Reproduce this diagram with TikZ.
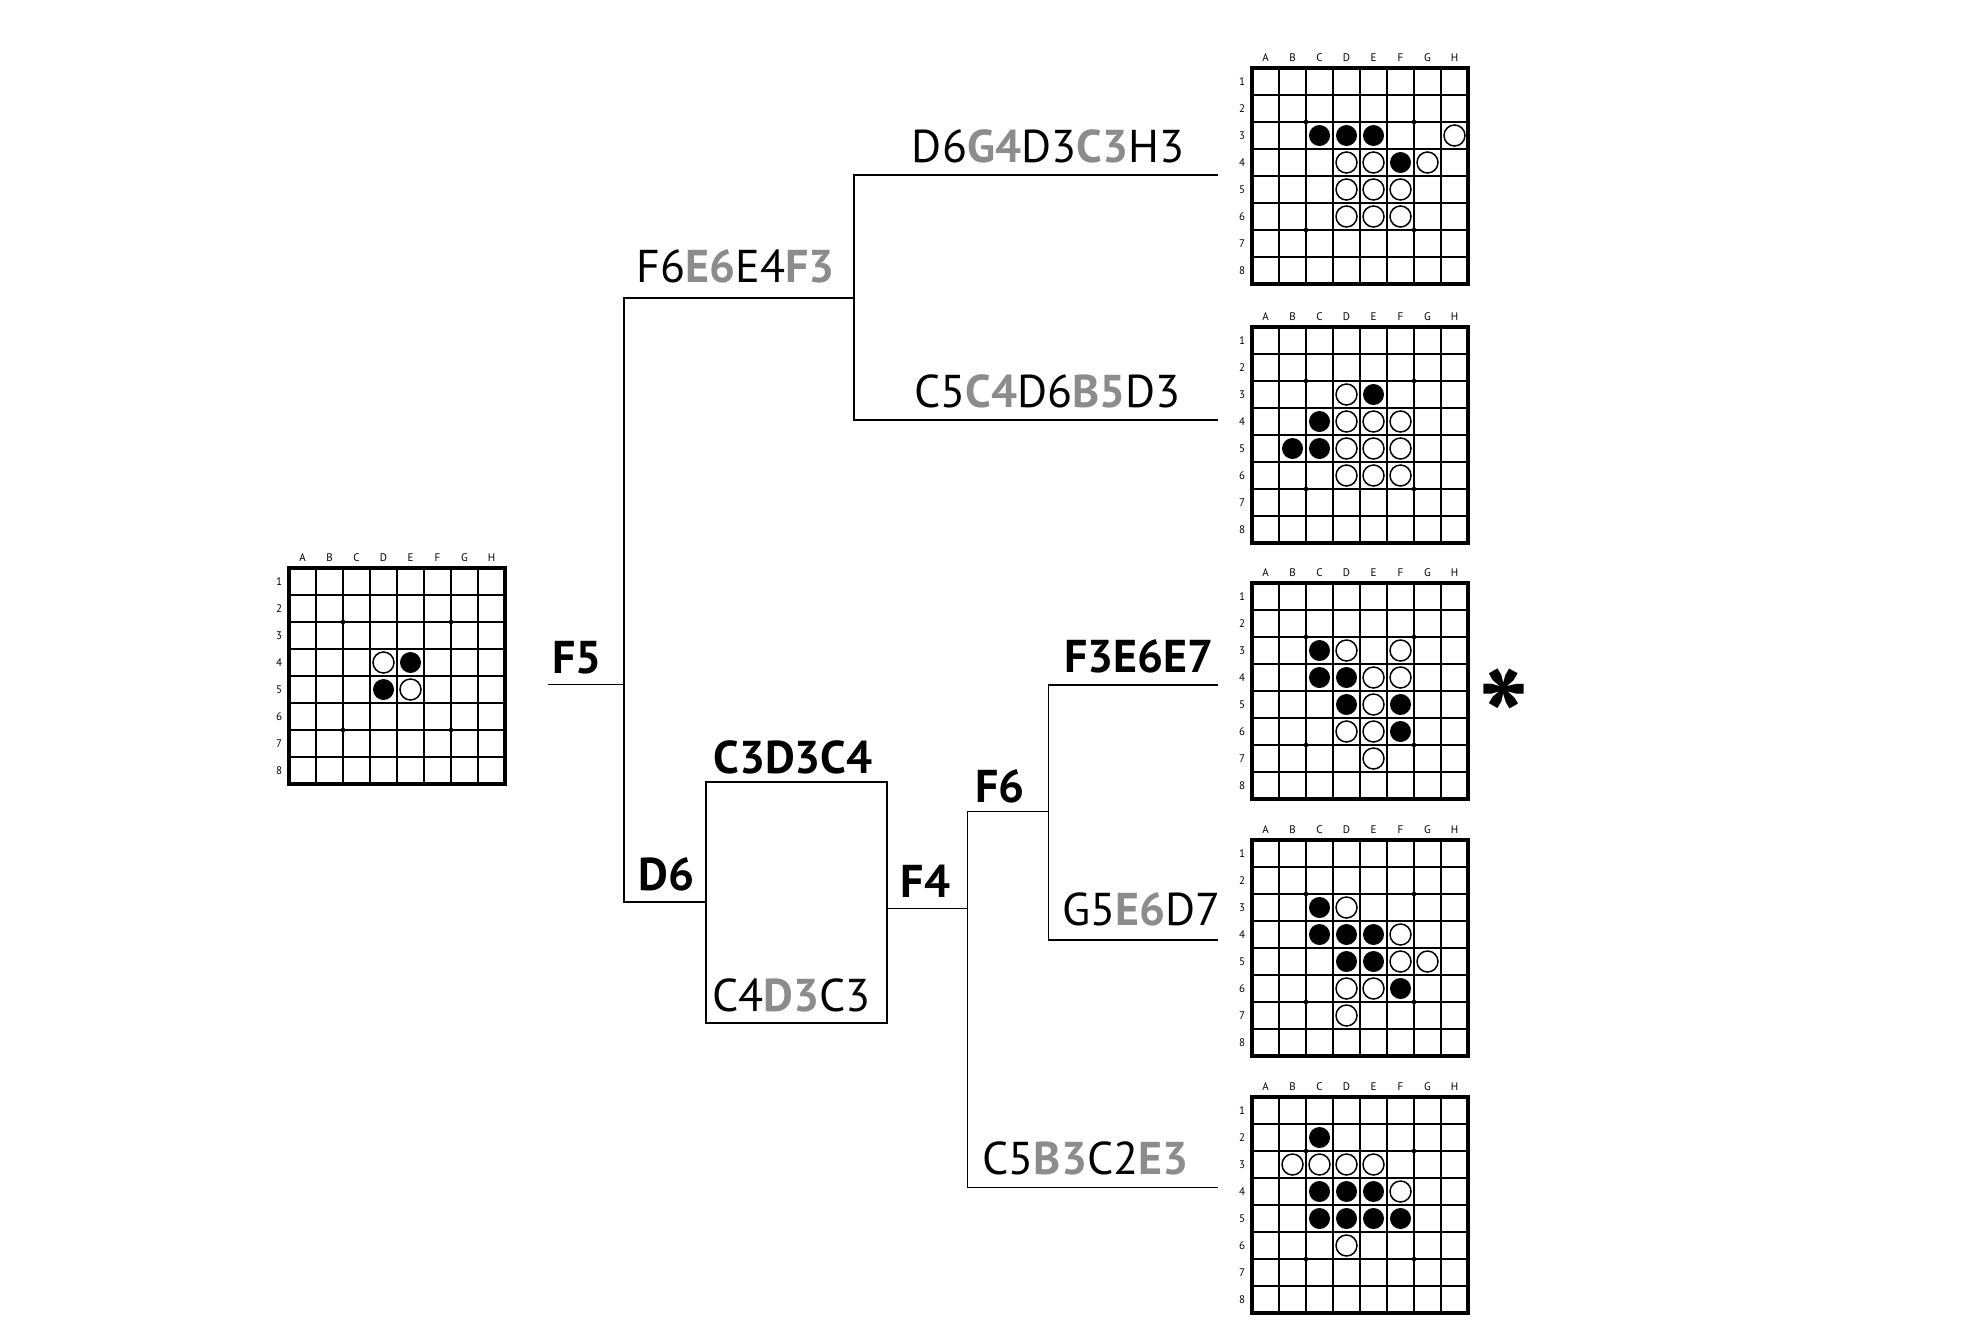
\documentclass[tikz,border=0pt]{standalone}
\usepackage{fontspec}
\setmainfont{PT Sans}
\usepackage{tikz}
\usetikzlibrary{positioning}
\definecolor{dim}{HTML}{8C8C8C}
\newcommand{\gmove}[1]{{\bfseries\color{dim}#1}}
% one 8x8 board: name, top-left corner, black stones, white stones (col/row)
\newcommand{\othelloboard}[4]{%
  \begin{scope}[shift={(#2)}]
    \coordinate (#1) at (0,0);
    \foreach \i in {1,...,7} {
      \draw[gridline] (\i*27,0) -- (\i*27,216);
      \draw[gridline] (0,\i*27) -- (216,\i*27);
    }
    \foreach \px/\py in {2/2,6/2,2/6,6/6}
      \fill (\px*27,\py*27) circle[radius=2.3pt];
    \foreach \c [count=\n] in {A,...,H}
      \node[boardlabel] (#1-c\n) at (\n*27-13.5,-10) {\c};
    \foreach \n in {1,...,8}
      \node[boardlabel] (#1-r\n) at (-10,\n*27-13.5) {\n};
    \foreach \c/\r in {#3}
      \fill (\c*27-13.5,\r*27-13.5) circle[radius=10.5pt];
    \foreach \c/\r in {#4}
      \draw[whitestone] (\c*27-13.5,\r*27-13.5) circle[radius=10.5pt];
    \draw[frame] (0,0) rectangle (216,216);
  \end{scope}}

\begin{document}
\begin{tikzpicture}[x=1pt, y=-1pt,
  font=\fontsize{46}{50}\selectfont,
  every node/.style={inner sep=0pt},
  branch/.style={line width=1.9pt},
  move/.style={anchor=base},
  keymove/.style={anchor=base, font=\fontsize{46}{50}\selectfont\bfseries},
  gridline/.style={line width=1.2pt},
  frame/.style={line width=3.4pt},
  whitestone/.style={fill=white, draw=black, line width=1.5pt},
  boardlabel/.style={font=\fontsize{11}{12}\selectfont}
]
  \useasboundingbox (0,0) rectangle (1970,1334);

  % boards
  \othelloboard{b0}{289,568}{5/4,4/5}{4/4,5/5}
  \othelloboard{b1}{1252,68}{3/3,4/3,5/3,6/4}
    {8/3,4/4,5/4,7/4,4/5,5/5,6/5,4/6,5/6,6/6}
  \othelloboard{b2}{1252,327}{5/3,3/4,2/5,3/5}
    {4/3,4/4,5/4,6/4,4/5,5/5,6/5,4/6,5/6,6/6}
  \othelloboard{b3}{1252,583}{3/3,3/4,4/4,4/5,6/5,6/6}
    {4/3,6/3,5/4,6/4,5/5,4/6,5/6,5/7}
  \othelloboard{b4}{1252,840}{3/3,3/4,4/4,5/4,4/5,5/5,6/6}
    {4/3,6/4,6/5,7/5,4/6,5/6,4/7}
  \othelloboard{b5}{1252,1097}{3/2,3/4,4/4,5/4,3/5,4/5,5/5,6/5}
    {2/3,3/3,4/3,5/3,6/4,4/6}

  % junctions of the tree
  \coordinate (f5) at (548,684.5);
  \coordinate (j1) at (624,684.5);
  \coordinate (j1t) at (624,298);
  \coordinate (j1b) at (624,902);
  \coordinate (j2t) at (854,175);
  \coordinate (j2) at (854,298);
  \coordinate (j2b) at (854,420);
  \coordinate (j3t) at (967.5,811.5);
  \coordinate (j3) at (967.5,908.5);
  \coordinate (j3b) at (967.5,1187.5);
  \coordinate (j4t) at (1048.5,685);
  \coordinate (j4) at (1048.5,811.5);
  \coordinate (j4b) at (1048.5,940);
  \coordinate (e1) at (1218,175);
  \coordinate (e2) at (1218,420);
  \coordinate (e3) at (1218,685);
  \coordinate (e4) at (1218,940);
  \coordinate (e5) at (1218,1187.5);

  \node[draw, branch, anchor=north west, minimum width=181, minimum height=241] (seq) at (705,781) {};

  \draw[branch] (f5) -- (j1);
  \draw[branch] (j2) -- (j1t) -- (j1b) -- (j1b -| seq.west);
  \draw[branch] (e1) -- (j2t) -- (j2b) -- (e2);
  \draw[branch] (seq.east |- j3) -- (j3);
  \draw[branch] (j4) -- (j3t) -- (j3b) -- (e5);
  \draw[branch] (e3) -- (j4t) -- (j4b) -- (e4);

  % moves
  \node[keymove] (mf5) at (577,673) {F5};
  \node[move] (m1) at (736,282) {F6\gmove{E6}E4\gmove{F3}};
  \node[move] (m11) at (1048,162) {D6\gmove{G4}D3\gmove{C3}H3};
  \node[move] (m12) at (1047.5,407) {C5\gmove{C4}D6\gmove{B5}D3};
  \node[keymove] (md6) at (666.5,890) {D6};
  \node[keymove] (mtop) at (793,773) {C3D3C4};
  \node[move] (mbot) at (791.5,1011.5) {C4\gmove{D3}C3};
  \node[keymove] (mf4) at (925.5,897) {F4};
  \node[keymove] (mf6) at (1000,802) {F6};
  \node[keymove] (m31) at (1139,672) {F3E6E7};
  \node[move] (m32) at (1141.5,925) {G5\gmove{E6}D7};
  \node[move] (m33) at (1085.5,1174.5) {C5\gmove{B3}C2\gmove{E3}};

  \node[anchor=base, font=\fontsize{135}{135}\selectfont\bfseries] (best) at (1504,767) {*};
\end{tikzpicture}
\end{document}
